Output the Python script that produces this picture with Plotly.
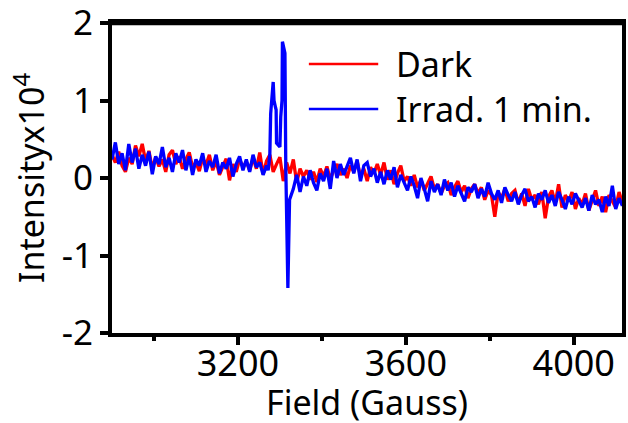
import numpy as np
import plotly.graph_objects as go

# Field grid (Gauss), 8 G sampling
field_start = 2900
field_step = 8
n_pts = 153

dark_y = [
    0.30, 0.20, 0.34, 0.16, 0.08, 0.26, 0.18, 0.42, 0.28, 0.44,
    0.22, 0.35, 0.12, 0.27, 0.15, 0.24, 0.08, 0.30, 0.36, 0.18,
    0.28, 0.12, 0.24, 0.33, 0.14, 0.20, 0.09, 0.26, 0.17, 0.30,
    0.10, 0.22, 0.04, 0.16, 0.25, -0.03, 0.18, 0.08, 0.24, 0.14,
    0.21, 0.10, 0.26, 0.12, 0.33, 0.05, 0.22, 0.30, 0.08, 0.18,
    0.27, -0.04, 0.20, 0.06, 0.24, -0.06, 0.12, 0.02, 0.10, -0.02,
    0.08, -0.05, 0.12, 0.02, 0.15, -0.02, 0.10, 0.18, 0.04, 0.12,
    0.00, 0.16, 0.08, 0.22, 0.02, 0.12, -0.04, 0.14, 0.06, 0.18,
    0.04, 0.20, -0.02, 0.10, -0.08, 0.06, 0.16, -0.04, 0.02, -0.10,
    0.04, -0.12, -0.02, -0.16, -0.06, 0.02, -0.14, -0.08, -0.20, -0.10,
    -0.06, -0.22, -0.12, -0.04, -0.18, -0.10, -0.26, -0.14, -0.08, -0.20,
    -0.12, -0.28, -0.16, -0.22, -0.50, -0.18, -0.26, -0.14, -0.30, -0.20,
    -0.16, -0.32, -0.20, -0.36, -0.14, -0.28, -0.22, -0.34, -0.18, -0.52,
    -0.24, -0.16, -0.32, -0.08, -0.38, -0.22, -0.30, -0.18, -0.40, -0.26,
    -0.34, -0.20, -0.42, -0.28, -0.16, -0.36, -0.24, -0.44, -0.22, -0.30,
    -0.38, -0.18, -0.32,
]

irrad_pre_y = [
    0.24, 0.46, 0.18, 0.32, 0.10, 0.44, 0.20, 0.38, 0.12, 0.30,
    0.16, 0.34, 0.05, 0.28, 0.18, 0.40, 0.14, 0.26, 0.08, 0.32,
    0.20, 0.36, 0.10, 0.28, 0.04, 0.24, 0.16, 0.32, 0.08, 0.22,
    0.14, 0.30, 0.06, 0.20, 0.12, 0.26, 0.02, 0.18, 0.28, 0.10,
    0.24, 0.08, 0.30, 0.14, 0.20, 0.04, 0.16,
]
spike_x = [3272, 3276, 3278, 3284, 3286, 3290, 3291, 3292, 3300, 3302, 3305, 3306, 3312, 3314, 3319, 3323, 3328]
spike_y = [0.10, 0.30, 0.83, 1.24, 1.00, 0.90, 0.88, 0.45, 0.40, 0.79, 1.00, 1.76, 1.61, 0.15, -1.42, -0.28, -0.20]
irrad_post_y = [
    -0.14, 0.04, -0.18, 0.02, -0.10, 0.10,
    -0.06, -0.16, 0.06, -0.04, 0.12, -0.14, 0.22, 0.00, 0.18, 0.04,
    0.14, 0.26, 0.06, 0.24, -0.04, 0.16, 0.20, 0.02, 0.12, -0.06,
    0.08, -0.08, 0.10, -0.02, 0.14, -0.12, 0.04, -0.06, -0.16, 0.02,
    -0.10, -0.26, 0.00, -0.14, -0.30, -0.04, -0.18, -0.08, -0.22, -0.02,
    -0.16, -0.06, -0.24, -0.10, -0.20, -0.30, -0.12, -0.18, -0.08, -0.26,
    -0.14, -0.24, -0.06, -0.20, -0.28, -0.16, -0.32, -0.12, -0.22, -0.30,
    -0.18, -0.34, -0.22, -0.14, -0.30, -0.24, -0.38, -0.20, -0.28, -0.16,
    -0.32, -0.22, -0.36, -0.18, -0.28, -0.40, -0.24, -0.34, -0.20, -0.30,
    -0.38, -0.26, -0.42, -0.22, -0.34, -0.28, -0.44, -0.24, -0.36, -0.10,
    -0.40, -0.26, -0.36,
]

y_ticktext = ["-2", "-1", "0", "1", "2"]
y_ticks = [-2, -1, 0, 1, 2]
series_names = ["Dark", "Irrad. 1 min."]
series_colors = ["#ff0000", "#0000ff"]

grid = field_start + field_step * np.arange(n_pts)
dark_x = grid
pre_x = grid[:len(irrad_pre_y)]
post_x = grid[n_pts - len(irrad_post_y):]
irrad_x = list(pre_x) + spike_x + list(post_x)
irrad_y = irrad_pre_y + spike_y + irrad_post_y

FONT = "Noto Sans"

fig = go.Figure()
fig.add_trace(go.Scatter(x=dark_x, y=dark_y, mode="lines", name=series_names[0],
                         line=dict(color=series_colors[0], width=3.3), showlegend=False))
fig.add_trace(go.Scatter(x=irrad_x, y=irrad_y, mode="lines", name=series_names[1],
                         line=dict(color=series_colors[1], width=3.3), showlegend=False))

# top edge of the frame
fig.add_shape(type="line", xref="x domain", yref="y domain", x0=0, x1=1, y0=1, y1=1,
              line=dict(color="black", width=4.5), layer="above")

# manual legend
leg_rows = [0.868, 0.723]
for name, col, yy in zip(series_names, series_colors, leg_rows):
    fig.add_shape(type="line", xref="x domain", yref="y domain", x0=0.386, x1=0.522, y0=yy, y1=yy,
                  line=dict(color=col, width=2.5))
    fig.add_annotation(xref="x domain", yref="y domain", x=0.553, y=yy, text=name, showarrow=False,
                       xanchor="left", yanchor="middle", font=dict(family=FONT, size=34, color="black"))

# x-axis title placed as text below the tick labels
fig.add_annotation(xref="x domain", yref="y domain", x=0.5, y=0, yshift=-44, text="Field (Gauss)",
                   showarrow=False, xanchor="center", yanchor="top",
                   font=dict(family=FONT, size=34, color="black"))

fig.update_layout(
    width=628, height=423,
    margin=dict(l=112, r=6, t=17, b=90, autoexpand=False),
    paper_bgcolor="white", plot_bgcolor="white",
    font=dict(family=FONT, size=34, color="black"),
)
fig.layout.xaxis.update(
    range=[2900, 4115], tickmode="linear", tick0=3200, dtick=400,
    ticks="outside", ticklen=8, tickwidth=3.5,
    tickcolor="black", showline=True, linewidth=4, linecolor="black", mirror=True,
    showgrid=False, zeroline=False, automargin=False, ticklabeloverflow="allow",
    ticklabelstandoff=-12,
    minor=dict(tick0=3000, dtick=200, ticks="outside", ticklen=4, tickwidth=3.5,
               tickcolor="black", showgrid=False),
    tickfont=dict(family=FONT, size=36),
)
fig.layout.yaxis.update(
    domain=[0, 0.9808],
    range=[-2, 2], tickmode="array", tickvals=y_ticks, ticktext=y_ticktext,
    ticks="outside", ticklen=8, tickwidth=3.5,
    tickcolor="black", showline=True, linewidth=4, linecolor="black", mirror=True,
    showgrid=False, zeroline=False, automargin=False, ticklabeloverflow="allow",
    title=dict(text="Intensityx10<sup>4</sup>", font=dict(family=FONT, size=34), standoff=8),
    tickfont=dict(family=FONT, size=35),
)

fig.write_html("out.html", config={"displayModeBar": False},
               post_script="document.body.style.margin='0';")
